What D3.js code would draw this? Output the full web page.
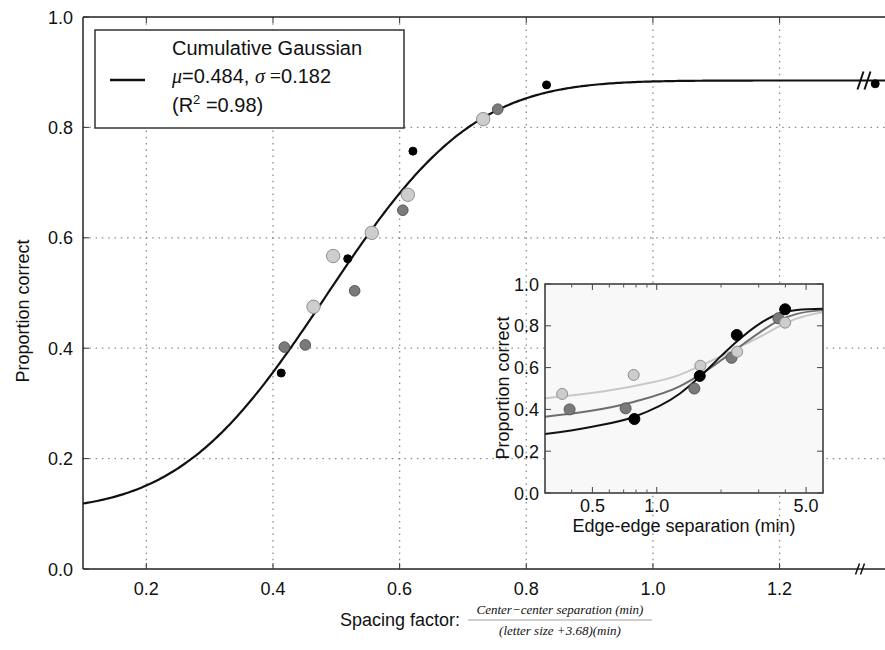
<!DOCTYPE html>
<html>
<head>
<meta charset="utf-8">
<script src="https://cdn.jsdelivr.net/npm/d3@7"></script>
<style>
  html, body { margin: 0; padding: 0; background: #fff; }
  svg { display: block; }
  text { font-family: "Liberation Sans", Arial, sans-serif; fill: #111; }
  .serif { font-family: "Liberation Serif", "DejaVu Serif", serif; font-style: italic; }
</style>
</head>
<body>
<svg id="chart" width="885" height="650"></svg>
<script>
// ---------------- DATA ----------------
// Main plot: spacing factor vs proportion correct (three letter sizes)
const mainBlack = [[0.413, 0.355], [0.518, 0.562], [0.621, 0.757], [0.832, 0.877]];
const mainBlackBreak = [[1.351, 0.879]];
const mainDark = [[0.418, 0.402], [0.451, 0.406], [0.529, 0.504], [0.605, 0.650], [0.755, 0.833]];
const mainLight = [[0.464, 0.475], [0.495, 0.567], [0.556, 0.609], [0.613, 0.678], [0.732, 0.815]];

// Fitted cumulative Gaussian (stated in legend)
const fitMu = 0.484, fitSigma = 0.182, fitLower = 0.105, fitUpper = 0.885;

const mainXTicks = [0.2, 0.4, 0.6, 0.8, 1.0, 1.2];
const mainYTicks = [0.0, 0.2, 0.4, 0.6, 0.8, 1.0];

// Inset: edge-edge separation (min, log) vs proportion correct
const insetBlack = [[0.786, 0.354], [1.59, 0.560], [2.37, 0.756], [3.99, 0.879]];
const insetDark = [[0.391, 0.400], [0.715, 0.405], [1.50, 0.500], [2.24, 0.647], [3.71, 0.836]];
const insetLight = [[0.361, 0.474], [0.780, 0.565], [1.60, 0.609], [2.38, 0.676], [3.99, 0.815]];

// Inset fitted curves
const insetCurveBlack = [[0.3, 0.282], [0.485, 0.315], [0.786, 0.365], [1.28, 0.475], [1.59, 0.556], [2.0, 0.655], [2.37, 0.725], [3.05, 0.812], [3.78, 0.860], [4.53, 0.876], [6.0, 0.881]];
const insetCurveDark = [[0.3, 0.365], [0.485, 0.392], [0.786, 0.437], [1.28, 0.510], [1.59, 0.565], [2.0, 0.635], [2.37, 0.690], [3.05, 0.770], [3.78, 0.828], [4.53, 0.857], [6.0, 0.875]];
const insetCurveLight = [[0.3, 0.453], [0.485, 0.477], [0.786, 0.512], [1.28, 0.565], [1.59, 0.607], [2.0, 0.655], [2.37, 0.692], [3.05, 0.748], [3.78, 0.800], [4.53, 0.835], [6.0, 0.865]];

const insetXMajor = [0.5, 1.0, 5.0];
const insetXMajorLabels = ["0.5", "1.0", "5.0"];
const insetXMinor = [0.3, 0.4, 0.6, 0.7, 0.8, 0.9, 2, 3, 4, 6];
const insetYTicks = [0.0, 0.2, 0.4, 0.6, 0.8, 1.0];

// ---------------- DRAW ----------------
const svg = d3.select("#chart");

// normal CDF
function erf(x) {
  const s = Math.sign(x); x = Math.abs(x);
  const t = 1 / (1 + 0.3275911 * x);
  const y = 1 - (((((1.061405429 * t - 1.453152027) * t) + 1.421413741) * t - 0.284496736) * t + 0.254829592) * t * Math.exp(-x * x);
  return s * y;
}
const Phi = z => 0.5 * (1 + erf(z / Math.SQRT2));

const xMain = d3.scaleLinear().domain([0.1, 1.417]).range([83, 917]);
const yMain = d3.scaleLinear().domain([0, 1]).range([569, 17]);
const W = 885;

const gMain = svg.append("g");

// grid
gMain.selectAll(".vg").data(mainXTicks).join("line")
  .attr("x1", d => xMain(d)).attr("x2", d => xMain(d))
  .attr("y1", yMain(1)).attr("y2", yMain(0))
  .attr("stroke", "#8a8a8a").attr("stroke-width", 1.3).attr("stroke-dasharray", "1.5,4.8");
gMain.selectAll(".hg").data(mainYTicks.filter(d => d > 0 && d < 1)).join("line")
  .attr("x1", xMain(0.1)).attr("x2", W)
  .attr("y1", d => yMain(d)).attr("y2", d => yMain(d))
  .attr("stroke", "#8a8a8a").attr("stroke-width", 1.3).attr("stroke-dasharray", "1.5,4.8");

// spines
gMain.append("line").attr("x1", xMain(0.1)).attr("x2", W).attr("y1", yMain(1)).attr("y2", yMain(1)).attr("stroke", "#222").attr("stroke-width", 1.5);
gMain.append("line").attr("x1", xMain(0.1)).attr("x2", W).attr("y1", yMain(0)).attr("y2", yMain(0)).attr("stroke", "#222").attr("stroke-width", 1.5);
gMain.append("line").attr("x1", xMain(0.1)).attr("x2", xMain(0.1)).attr("y1", yMain(1)).attr("y2", yMain(0)).attr("stroke", "#222").attr("stroke-width", 1.5);

// ticks
mainXTicks.forEach(d => {
  gMain.append("line").attr("x1", xMain(d)).attr("x2", xMain(d)).attr("y1", yMain(0)).attr("y2", yMain(0) - 6).attr("stroke", "#333").attr("stroke-width", 1);
  gMain.append("line").attr("x1", xMain(d)).attr("x2", xMain(d)).attr("y1", yMain(1)).attr("y2", yMain(1) + 6).attr("stroke", "#333").attr("stroke-width", 1);
  gMain.append("text").attr("x", xMain(d)).attr("y", 595).attr("text-anchor", "middle")
    .attr("font-size", 18).text(d.toFixed(1));
});
mainYTicks.forEach(d => {
  gMain.append("line").attr("x1", xMain(0.1)).attr("x2", xMain(0.1) + 6).attr("y1", yMain(d)).attr("y2", yMain(d)).attr("stroke", "#333").attr("stroke-width", 1);
  gMain.append("text").attr("x", 73).attr("y", yMain(d) + 6.5).attr("text-anchor", "end")
    .attr("font-size", 18).text(d.toFixed(1));
});

// axis labels
gMain.append("text").attr("transform", "translate(29,311) rotate(-90)").attr("text-anchor", "middle")
  .attr("font-size", 18).text("Proportion correct");
gMain.append("text").attr("x", 340).attr("y", 626).attr("font-size", 18).text("Spacing factor:");
gMain.append("text").attr("class", "serif").attr("x", 560).attr("y", 614).attr("text-anchor", "middle")
  .attr("font-size", 13).text("Center\u2212center separation (min)");
gMain.append("line").attr("x1", 468).attr("x2", 652).attr("y1", 620).attr("y2", 620).attr("stroke", "#777").attr("stroke-width", 0.7);
gMain.append("text").attr("class", "serif").attr("x", 560).attr("y", 635).attr("text-anchor", "middle")
  .attr("font-size", 13).text("(letter size +3.68)(min)");

// fitted curve
const curveXs = d3.range(0.1, 1.4201, 0.004);
const line = d3.line().x(d => xMain(d[0])).y(d => yMain(d[1]));
gMain.append("path")
  .datum(curveXs.map(x => [x, fitLower + (fitUpper - fitLower) * Phi((x - fitMu) / fitSigma)]))
  .attr("d", line).attr("fill", "none").attr("stroke", "#111").attr("stroke-width", 2.2);

// points
function dots(g, data, xs, ys, r, fill, stroke) {
  g.selectAll(null).data(data).join("circle")
    .attr("cx", d => xs(d[0])).attr("cy", d => ys(d[1])).attr("r", r)
    .attr("fill", fill).attr("stroke", stroke).attr("stroke-width", 1);
}
dots(gMain, mainDark, xMain, yMain, 5.3, "#7a7a7a", "#555");
dots(gMain, mainLight, xMain, yMain, 6.7, "#cdcdcd", "#8e8e8e");
dots(gMain, mainBlack, xMain, yMain, 4, "#000", "#000");

// break marks
function breakMark(cx, cy, h, w, gap, sw) {
  [-gap / 2, gap / 2].forEach(o => {
    gMain.append("line").attr("x1", cx + o - w / 2).attr("y1", cy + h / 2)
      .attr("x2", cx + o + w / 2).attr("y2", cy - h / 2)
      .attr("stroke", "#111").attr("stroke-width", sw);
  });
}
breakMark(864, yMain(0.885), 18, 6, 7, 2);
breakMark(860, yMain(0), 11, 4, 5, 1.5);
dots(gMain, mainBlackBreak, xMain, yMain, 4, "#000", "#000");

// legend
const lg = svg.append("g");
lg.append("rect").attr("x", 95).attr("y", 30).attr("width", 309).attr("height", 98)
  .attr("fill", "#fff").attr("stroke", "#333").attr("stroke-width", 1.5);
lg.append("line").attr("x1", 110).attr("x2", 145).attr("y1", 80).attr("y2", 80).attr("stroke", "#111").attr("stroke-width", 2.5);
lg.append("text").attr("x", 172).attr("y", 55).attr("font-size", 20).text("Cumulative Gaussian");
const l2 = lg.append("text").attr("x", 172).attr("y", 83).attr("font-size", 20);
l2.append("tspan").attr("class", "serif").text("\u03bc");
l2.append("tspan").text("=0.484, ");
l2.append("tspan").attr("class", "serif").text("\u03c3");
l2.append("tspan").attr("font-family", "Liberation Serif, serif").text(" =");
l2.append("tspan").text("0.182");
const l3 = lg.append("text").attr("x", 172).attr("y", 112).attr("font-size", 20);
l3.append("tspan").text("(R");
l3.append("tspan").attr("dy", -8).attr("font-size", 13).text("2");
l3.append("tspan").attr("dy", 8).text(" =0.98)");

// ---------------- INSET ----------------
const xIn = d3.scaleLog().domain([0.3, 6.0]).range([545, 823]);
const yIn = d3.scaleLinear().domain([0, 1]).range([493, 284]);
const gIn = svg.append("g");

gIn.append("rect").attr("x", 545).attr("y", 284).attr("width", 278).attr("height", 209)
  .attr("fill", "#f8f8f8").attr("stroke", "none");

// curves
const lineIn = d3.line().x(d => xIn(d[0])).y(d => yIn(d[1])).curve(d3.curveMonotoneX);
gIn.append("path").datum(insetCurveLight).attr("d", lineIn).attr("fill", "none").attr("stroke", "#c8c8c8").attr("stroke-width", 2);
gIn.append("path").datum(insetCurveDark).attr("d", lineIn).attr("fill", "none").attr("stroke", "#6e6e6e").attr("stroke-width", 2);
gIn.append("path").datum(insetCurveBlack).attr("d", lineIn).attr("fill", "none").attr("stroke", "#111").attr("stroke-width", 2);

dots(gIn, insetDark, xIn, yIn, 5.5, "#7a7a7a", "#555");
dots(gIn, insetLight, xIn, yIn, 5.5, "#cdcdcd", "#8e8e8e");
dots(gIn, insetBlack, xIn, yIn, 5.5, "#000", "#000");

// frame
gIn.append("rect").attr("x", 545).attr("y", 284).attr("width", 278).attr("height", 209)
  .attr("fill", "none").attr("stroke", "#333").attr("stroke-width", 1.5);

// ticks
insetXMajor.forEach((d, i) => {
  gIn.append("line").attr("x1", xIn(d)).attr("x2", xIn(d)).attr("y1", 493).attr("y2", 487).attr("stroke", "#444");
  gIn.append("line").attr("x1", xIn(d)).attr("x2", xIn(d)).attr("y1", 284).attr("y2", 290).attr("stroke", "#444");
  gIn.append("text").attr("x", xIn(d)).attr("y", 512).attr("text-anchor", "middle").attr("font-size", 18).text(insetXMajorLabels[i]);
});
insetXMinor.forEach(d => {
  gIn.append("line").attr("x1", xIn(d)).attr("x2", xIn(d)).attr("y1", 493).attr("y2", 489.5).attr("stroke", "#555");
  gIn.append("line").attr("x1", xIn(d)).attr("x2", xIn(d)).attr("y1", 284).attr("y2", 287.5).attr("stroke", "#555");
});
insetYTicks.forEach(d => {
  gIn.append("line").attr("x1", 545).attr("x2", 551).attr("y1", yIn(d)).attr("y2", yIn(d)).attr("stroke", "#444");
  gIn.append("line").attr("x1", 823).attr("x2", 817).attr("y1", yIn(d)).attr("y2", yIn(d)).attr("stroke", "#444");
  gIn.append("text").attr("x", 539).attr("y", yIn(d) + 6.5).attr("text-anchor", "end").attr("font-size", 18).text(d.toFixed(1));
});
gIn.append("text").attr("transform", "translate(509,388) rotate(-90)").attr("text-anchor", "middle")
  .attr("font-size", 18).text("Proportion correct");
gIn.append("text").attr("x", 684).attr("y", 532).attr("text-anchor", "middle")
  .attr("font-size", 18).text("Edge-edge separation (min)");
</script>
</body>
</html>
